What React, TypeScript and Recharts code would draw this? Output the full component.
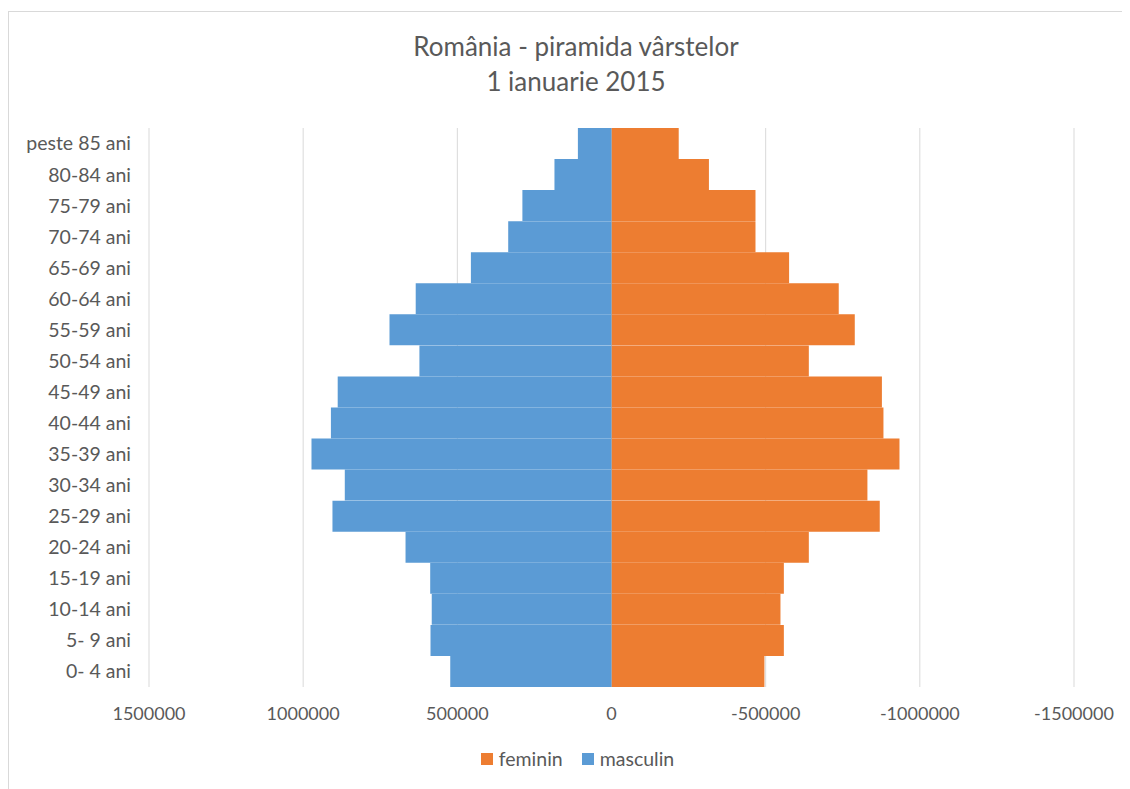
import React from 'react';
import { Bar, BarChart, CartesianGrid, Legend, XAxis, YAxis } from 'recharts';

const ageGroups = [
	'0- 4 ani',
	'5- 9 ani',
	'10-14 ani',
	'15-19 ani',
	'20-24 ani',
	'25-29 ani',
	'30-34 ani',
	'35-39 ani',
	'40-44 ani',
	'45-49 ani',
	'50-54 ani',
	'55-59 ani',
	'60-64 ani',
	'65-69 ani',
	'70-74 ani',
	'75-79 ani',
	'80-84 ani',
	'peste 85 ani',
];

const masculin = [
	523000, 587000, 583000, 588000, 668000, 905000, 865000, 973000, 910000, 888000, 623000, 720000,
	635000, 456000, 335000, 289000, 185000, 109000,
];

// feminin is stored negative so it draws to the right of the reversed axis
const feminin = [
	-496000, -559000, -548000, -559000, -640000, -870000, -830000, -934000, -882000, -877000,
	-640000, -789000, -737000, -576000, -467000, -467000, -316000, -218000,
];

const xTicks = [-1500000, -1000000, -500000, 0, 500000, 1000000, 1500000];

const data = ageGroups.map((age, i) => ({
	age,
	masculin: masculin[i],
	feminin: feminin[i],
}));

const FONT = 'Lato, "Noto Sans", sans-serif';
const TEXT = '#595959';

const LegendContent = ({ payload }: any) => {
	return (
		<div
			style={{
				display: 'flex',
				justifyContent: 'center',
				paddingLeft: 16,
				fontFamily: FONT,
				fontSize: 19.5,
				color: TEXT,
			}}
		>
			{(payload || []).map((entry: any, i: number) => (
				<div
					key={entry.value}
					style={{ display: 'flex', alignItems: 'center', marginRight: i === payload.length - 1 ? 0 : 19 }}
				>
					<span
						style={{ width: 12, height: 12, background: entry.color, marginRight: 6, display: 'inline-block' }}
					/>
					<span>{entry.value}</span>
				</div>
			))}
		</div>
	);
};

const App = () => {
	return (
		<div
			style={{
				position: 'relative',
				top: 3,
				width: 1134,
				height: 800,
				borderTop: '1px solid #d9d9d9',
				borderLeft: '1px solid #d9d9d9',
				background: '#fff',
			}}
		>
			<div
				style={{
					position: 'absolute',
					top: 17,
					left: 0,
					width: 1134,
					textAlign: 'center',
					fontFamily: FONT,
					fontSize: 26,
					lineHeight: '35px',
					color: TEXT,
				}}
			>
				<div>România - piramida vârstelor</div>
				<div>1 ianuarie 2015</div>
			</div>
			<BarChart
				width={1121}
				height={776}
				data={data}
				layout="vertical"
				stackOffset="sign"
				barCategoryGap={0}
				margin={{ top: 116, right: 56, bottom: 18, left: 0 }}
			>
				<CartesianGrid horizontal={false} stroke="#d9d9d9" />
				<XAxis
					type="number"
					domain={[-1500000, 1500000]}
					ticks={xTicks}
					reversed
					axisLine={false}
					tickLine={false}
					tickMargin={14}
					height={60}
					interval={0}
					tick={{ fill: TEXT, fontSize: 18, fontFamily: FONT }}
				/>
				<YAxis
					type="category"
					dataKey="age"
					reversed
					width={140}
					axisLine={false}
					tickLine={false}
					tickMargin={12}
					interval={0}
					tick={{ fill: TEXT, fontSize: 19.5, fontFamily: FONT }}
				/>
				<Legend
					verticalAlign="bottom"
					wrapperStyle={{ left: 0, width: 1121 }}
					content={<LegendContent />}
				/>
				<Bar dataKey="feminin" name="feminin" stackId="a" fill="#ED7D31" isAnimationActive={false} />
				<Bar dataKey="masculin" name="masculin" stackId="a" fill="#5B9BD5" isAnimationActive={false} />
			</BarChart>
		</div>
	);
};

export default App;
